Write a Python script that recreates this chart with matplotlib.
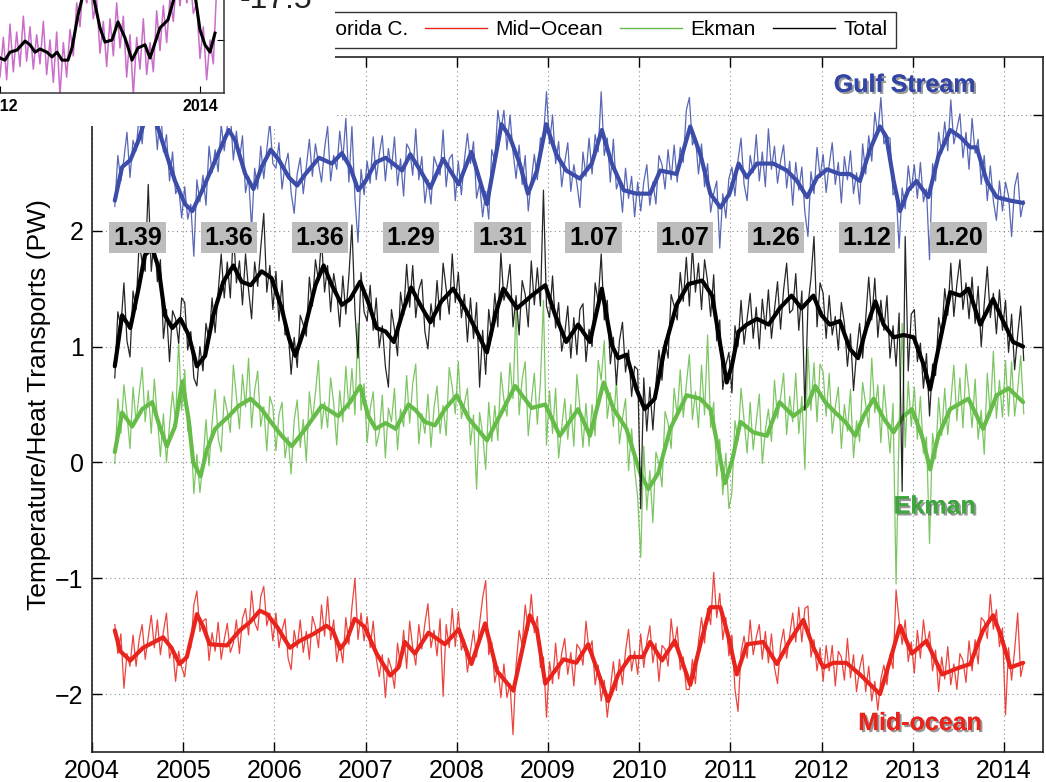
import numpy as np
import matplotlib
matplotlib.use('Agg')
import matplotlib.pyplot as plt
import matplotlib.patheffects as pe
from matplotlib.patches import Rectangle
from matplotlib.lines import Line2D

plt.rcParams['font.family'] = ['Liberation Sans', 'DejaVu Sans']

# thin (raw) series, one value every 1/30 year starting at 2004.25
t_start = 2004.25
samples_per_year = 30

gulf_thin = [
    # 2004
    2.21, 2.65, 2.43, 2.62, 2.85, 2.46, 2.78, 2.69, 3.00, 2.75, 3.07, 3.18, 2.94, 3.02, 2.70, 3.07, 2.68, 2.83, 2.43, 2.68, 2.32, 2.38, 2.11,
    # 2005
    2.38, 2.10, 2.23, 1.78, 2.44, 2.25, 2.48, 2.22, 2.73, 2.50, 2.70, 2.51, 2.92, 2.69, 2.90, 3.01, 2.61, 2.86, 2.61, 2.82,
    2.33, 2.47, 2.02, 2.54, 2.36, 2.73, 2.45, 2.70, 2.94, 2.58,
    # 2006
    2.54, 2.76, 2.36, 2.56, 2.67, 2.33, 2.15, 2.49, 2.63, 2.32, 2.55, 2.79, 2.47, 2.75, 2.58, 2.42, 2.71, 2.90, 2.43, 2.65,
    2.53, 2.86, 2.61, 2.97, 2.42, 2.90, 2.28, 1.90, 2.53, 2.31,
    # 2007
    2.60, 2.41, 2.81, 2.44, 2.66, 2.82, 2.43, 2.71, 2.53, 2.81, 2.39, 2.62, 2.30, 2.75, 2.70, 2.48, 2.88, 2.44, 2.64, 2.24,
    2.44, 2.23, 2.64, 2.56, 2.48, 2.87, 2.38, 2.62, 2.66, 2.26,
    # 2008
    2.60, 2.31, 2.61, 2.84, 2.58, 2.77, 2.28, 2.41, 2.12, 2.34, 2.10, 2.70, 2.60, 3.04, 2.86, 3.04, 2.70, 3.00, 2.68, 2.45,
    2.74, 2.40, 2.65, 2.17, 2.43, 2.66, 2.44, 2.80, 2.80, 3.20,
    # 2009
    2.75, 3.00, 2.58, 2.77, 2.38, 2.59, 2.76, 2.34, 2.57, 2.41, 2.20, 2.68, 2.47, 2.80, 2.49, 2.83, 2.68, 3.20, 2.65, 2.80,
    2.42, 2.79, 2.36, 2.45, 2.16, 2.54, 2.28, 2.47, 2.12, 2.42,
    # 2010
    2.17, 2.42, 2.57, 2.22, 2.42, 2.23, 2.65, 2.57, 2.36, 2.70, 2.44, 2.74, 2.42, 2.72, 2.59, 3.04, 3.15, 2.74, 2.81, 2.49,
    2.75, 2.38, 2.58, 2.16, 2.32, 2.43, 1.85, 2.32, 2.11, 2.45,
    # 2011
    2.55, 2.30, 2.61, 2.80, 2.40, 2.26, 2.65, 2.50, 2.83, 2.43, 2.68, 2.38, 2.88, 2.53, 2.73, 2.41, 2.60, 2.74, 2.37, 2.60,
    2.22, 2.59, 2.35, 2.55, 2.16, 1.95, 2.51, 2.32, 2.72, 2.46,
    # 2012
    2.66, 2.33, 2.57, 2.76, 2.40, 2.59, 2.24, 2.64, 2.44, 2.69, 2.32, 2.50, 2.23, 2.75, 2.49, 2.82, 2.60, 3.02, 2.83, 3.15,
    2.75, 2.81, 2.80, 2.31, 2.35, 1.85, 2.37, 2.19, 2.56, 2.35,
    # 2013
    2.57, 2.28, 2.59, 2.25, 2.36, 1.75, 2.58, 2.43, 2.85, 2.67, 2.94, 2.69, 3.13, 2.75, 2.88, 3.01, 2.63, 2.85, 2.53, 2.97,
    2.67, 2.79, 2.40, 2.65, 2.26, 2.56, 2.26, 2.09, 2.43, 2.17,
    # 2014
    2.42, 2.30, 1.95, 2.38, 2.50, 2.12, 2.26,
]

total_thin = [
    # 2004
    0.73, 1.30, 1.17, 1.55, 1.05, 0.91, 1.48, 1.32, 1.90, 1.73, 1.65, 2.40, 1.65, 1.95, 1.56, 1.75, 1.07, 1.32, 0.87, 1.31, 1.24, 1.03, 1.42,
    # 2005
    1.38, 0.97, 1.13, 0.73, 0.66, 1.00, 0.79, 1.20, 1.05, 1.42, 1.12, 1.47, 1.80, 1.42, 1.73, 1.42, 2.00, 1.55, 1.74, 1.36,
    1.80, 1.49, 1.24, 1.73, 1.52, 1.85, 2.15, 1.47, 1.70, 1.32,
    # 2006
    1.65, 1.22, 1.57, 1.10, 1.15, 0.76, 1.08, 0.82, 1.27, 1.19, 1.09, 1.60, 1.35, 1.75, 1.57, 1.93, 1.47, 1.70, 1.30, 1.63,
    1.47, 1.17, 1.61, 1.28, 1.61, 2.05, 1.30, 0.90, 1.64, 1.30,
    # 2007
    1.22, 1.53, 1.14, 1.42, 0.99, 1.18, 0.83, 0.65, 1.32, 1.15, 0.92, 1.47, 1.27, 1.71, 1.34, 1.70, 1.25, 1.49, 1.58, 1.13,
    0.98, 1.37, 1.17, 1.57, 1.23, 1.72, 1.50, 1.28, 1.80, 1.38,
    # 2008
    1.64, 1.25, 1.45, 1.04, 1.42, 1.07, 1.38, 0.65, 1.14, 0.76, 1.32, 1.09, 1.46, 1.17, 1.81, 1.40, 1.51, 1.71, 1.17, 1.44,
    1.10, 1.57, 1.45, 1.17, 1.74, 1.36, 1.68, 1.35, 2.35, 1.35,
    # 2009
    1.25, 1.61, 1.16, 1.38, 0.96, 1.11, 1.35, 0.90, 1.25, 0.93, 1.32, 1.37, 0.87, 1.15, 1.00, 1.55, 1.39, 1.80, 1.23, 1.40,
    0.85, 1.08, 0.67, 1.05, 1.21, 0.78, 0.97, 0.57, 0.83, 0.80,
    # 2010
    -0.40, 0.73, 0.27, 0.65, 0.28, 0.68, 0.97, 0.71, 1.05, 0.90, 1.45, 1.35, 1.23, 1.64, 1.39, 1.77, 1.35, 1.86, 1.47, 1.72,
    1.32, 1.75, 1.56, 1.26, 1.62, 1.05, 1.23, 0.63, 0.84, 0.95,
    # 2011
    0.60, 1.18, 1.00, 1.40, 1.02, 1.24, 1.46, 1.07, 1.34, 0.98, 1.41, 1.15, 1.49, 1.07, 1.32, 1.56, 1.15, 1.49, 1.72, 1.29,
    1.32, 1.63, 1.14, 1.48, 0.45, 1.35, 1.59, 1.95, 1.17, 1.55,
    # 2012
    1.46, 1.07, 1.44, 1.10, 1.26, 0.97, 1.38, 1.20, 0.83, 1.11, 0.62, 0.95, 1.20, 0.90, 1.24, 1.60, 1.23, 1.59, 1.08, 1.40,
    1.14, 1.44, 0.90, 1.18, 0.83, 1.29, -0.25, 1.95, 0.79, 1.28,
    # 2013
    1.32, 0.87, 1.03, 0.64, 0.94, 0.40, 0.85, 0.75, 1.25, 1.10, 1.50, 1.27, 1.72, 1.26, 1.54, 1.75, 1.32, 1.55, 1.24, 1.60,
    1.20, 1.52, 1.00, 1.37, 1.69, 1.25, 1.46, 1.11, 1.49, 1.14,
    # 2014
    1.40, 0.95, 1.28, 0.80, 1.10, 1.35, 0.88,
]

ekman_thin = [
    # 2004
    -0.01, 0.55, 0.25, 0.67, 0.42, 0.12, 0.65, 0.35, 0.59, 0.82, 0.35, 0.62, 0.25, 0.72, 0.38, 0.05, 0.42, 0.00, 0.32, 0.61, 0.35, 1.05, 0.45,
    # 2005
    0.80, 0.27, 0.30, -0.27, 0.07, -0.26, 0.00, 0.37, -0.03, 0.34, 0.63, 0.21, 0.09, 0.57, 0.44, 0.26, 0.84, 0.57, 0.29, 0.76,
    0.48, 0.90, 0.30, 0.62, 0.79, 0.31, 0.48, 0.10, 0.57, 0.48,
    # 2006
    0.10, 0.41, 0.52, 0.04, 0.22, -0.10, 0.36, 0.54, 0.13, 0.37, 0.01, 0.61, 0.36, 0.60, 0.88, 0.29, 0.52, 0.30, 0.73, 0.51,
    0.15, 0.62, 0.35, 0.83, 0.46, 0.81, 0.41, 1.20, 0.45, 0.68,
    # 2007
    0.17, 0.46, 0.61, 0.14, 0.26, 0.58, 0.04, 0.47, 0.35, 0.64, 0.11, 0.46, 0.31, 0.75, 0.34, 0.68, 0.85, 0.16, 0.42, 0.25,
    0.59, 0.13, 0.47, 0.66, 0.25, 0.49, 0.23, 0.82, 0.65, 0.42,
    # 2008
    0.87, 0.38, 0.51, 0.64, 0.15, 0.41, -0.23, 0.43, 0.25, -0.06, 0.52, 0.18, 0.49, 0.19, 0.78, 0.54, 0.40, 0.86, 0.55, 1.35,
    0.41, 0.72, 0.87, 0.23, 0.52, 0.77, 0.33, 0.69, 1.40, 0.15,
    # 2009
    0.62, 0.25, 0.64, 0.04, 0.30, 0.55, 0.20, 0.50, 0.14, 0.76, 0.47, 0.13, 0.51, 0.14, 0.50, 0.23, 0.88, 0.71, 1.05, 0.38,
    0.60, 0.31, 0.71, 0.16, 0.38, 0.55, -0.07, 0.29, -0.06, -0.30,
    # 2010
    -0.82, 0.14, -0.41, -0.07, -0.52, 0.09, -0.01, -0.21, 0.44, 0.34, 0.12, 0.64, 0.40, 0.80, 0.39, 0.67, 0.93, 0.37, 0.61, 0.30,
    0.84, 0.41, 1.10, 0.30, 0.52, -0.12, 0.20, -0.28, 0.08, -0.40,
    # 2011
    -0.26, 0.36, 0.19, 0.64, 0.36, 0.08, 0.52, 0.11, 0.35, 0.59, -0.01, 0.28, 0.46, 0.18, 0.71, 0.38, 0.56, 0.77, 0.24, 0.57,
    0.35, 0.77, 0.25, 0.57, -0.06, 0.98, 0.45, 0.86, 0.35, 0.85,
    # 2012
    0.78, 0.40, 0.77, 0.25, 0.48, 0.65, 0.12, 0.50, 0.27, 0.63, 0.04, 0.36, 0.18, 0.69, 0.50, 0.30, 0.90, 0.43, 0.67, 0.17,
    0.67, 0.37, 0.08, 0.51, -1.05, 0.30, 1.20, 0.13, 0.70, 0.31,
    # 2013
    0.65, 0.20, 0.57, 0.08, 0.22, -0.70, 0.25, 0.03, 0.56, 0.23, 0.64, 0.24, 0.52, 0.84, 0.36, 0.73, 0.30, 0.85, 0.60, 0.30,
    0.72, 0.20, 0.45, 0.07, 0.77, 0.40, 0.96, 0.38, 0.71, 0.39,
    # 2014
    0.88, 0.40, 0.87, 0.40, 0.63, 0.92, 0.42,
]

mid_thin = [
    # 2004
    -1.40, -1.65, -1.48, -1.95, -1.65, -1.76, -1.49, -1.76, -1.53, -1.40, -1.70, -1.51, -1.32, -1.60, -1.36, -1.66, -1.46, -1.30, -1.69, -1.59, -1.89, -1.63, -1.77,
    # 2005
    -1.85, -1.61, -1.60, -1.23, -1.11, -1.46, -1.37, -1.35, -1.71, -1.47, -1.63, -1.38, -1.70, -1.53, -1.39, -1.64, -1.56, -1.36, -1.65, -1.35,
    -1.26, -1.49, -1.11, -1.38, -1.45, -1.16, -1.07, -1.41, -1.30, -1.54,
    # 2006
    -1.30, -1.60, -1.45, -1.35, -1.69, -1.79, -1.45, -1.60, -1.36, -1.64, -1.46, -1.70, -1.33, -1.42, -1.60, -1.23, -1.50, -1.16, -1.53, -1.36,
    -1.72, -1.56, -1.73, -1.34, -1.57, -1.25, -1.00, -1.53, -1.30, -1.54,
    # 2007
    -1.33, -1.60, -1.37, -1.69, -1.85, -1.66, -2.03, -1.69, -1.78, -1.95, -1.56, -1.76, -1.45, -1.78, -1.37, -1.60, -1.75, -1.40, -1.61, -1.39,
    -1.22, -1.60, -1.45, -1.67, -1.35, -2.02, -1.40, -1.60, -1.26, -1.59,
    # 2008
    -1.29, -1.62, -1.53, -1.81, -1.63, -1.45, -1.68, -1.39, -1.17, -1.02, -1.66, -1.55, -1.90, -1.76, -2.03, -1.74, -2.03, -1.91, -2.35, -1.75,
    -1.45, -1.58, -1.23, -1.45, -1.14, -1.47, -1.33, -1.77, -1.68, -2.20,
    # 2009
    -1.72, -1.91, -1.56, -1.87, -1.65, -1.52, -1.83, -1.64, -1.93, -1.57, -1.61, -1.75, -1.37, -1.63, -1.54, -1.92, -1.75, -2.06, -1.88, -2.20,
    -1.96, -1.72, -1.97, -1.70, -1.92, -1.63, -1.44, -1.80, -1.63, -1.83,
    # 2010
    -1.48, -1.77, -1.55, -1.41, -1.73, -1.56, -1.89, -1.58, -1.61, -1.76, -1.35, -1.59, -1.42, -1.79, -1.68, -1.96, -1.96, -1.70, -1.91, -1.55,
    -1.34, -1.56, -1.26, -1.40, -0.95, -1.34, -1.13, -1.53, -1.34, -1.67,
    # 2011
    -1.49, -1.96, -2.15, -1.64, -1.50, -1.69, -1.36, -1.66, -1.51, -1.40, -1.70, -1.46, -1.73, -1.48, -1.77, -1.91, -1.58, -1.44, -1.69, -1.49,
    -1.30, -1.55, -1.25, -1.55, -1.26, -1.24, -1.68, -1.53, -1.80, -1.60,
    # 2012
    -1.89, -1.58, -1.80, -1.58, -1.93, -1.63, -1.68, -1.88, -1.52, -1.86, -1.66, -1.98, -1.78, -1.66, -1.98, -1.76, -2.06, -1.89, -2.14, -1.87,
    -1.75, -1.92, -1.66, -1.78, -1.10, -1.37, -1.57, -1.36, -1.72, -1.55,
    # 2013
    -1.82, -1.45, -1.69, -1.36, -1.59, -1.46, -1.80, -1.62, -1.98, -1.68, -1.87, -1.59, -1.92, -1.74, -1.96, -1.65, -1.71, -1.90, -1.54, -1.80,
    -1.53, -1.74, -1.34, -1.37, -1.52, -1.14, -1.44, -1.27, -1.59, -1.43,
    # 2014
    -2.18, -1.60, -1.88, -1.62, -1.30, -1.85, -1.72,
]

# smoothed (3-month) series, (year, PW)
gulf_smooth = [
    (2004.25, 2.26), (2004.33, 2.55), (2004.42, 2.61), (2004.51, 2.78), (2004.58, 2.96), (2004.64, 3.05), (2004.71, 2.92),
    (2004.80, 2.70), (2004.91, 2.43), (2005.02, 2.23), (2005.10, 2.17), (2005.21, 2.35), (2005.32, 2.55), (2005.43, 2.75),
    (2005.50, 2.87), (2005.57, 2.78), (2005.68, 2.49), (2005.77, 2.36), (2005.86, 2.55), (2005.96, 2.70), (2006.05, 2.61),
    (2006.16, 2.46), (2006.25, 2.39), (2006.34, 2.49), (2006.49, 2.63), (2006.63, 2.58), (2006.74, 2.67), (2006.83, 2.55),
    (2006.92, 2.35), (2007.00, 2.43), (2007.11, 2.59), (2007.22, 2.63), (2007.40, 2.52), (2007.49, 2.66), (2007.60, 2.52),
    (2007.71, 2.37), (2007.85, 2.62), (2008.02, 2.40), (2008.16, 2.68), (2008.33, 2.23), (2008.49, 2.92), (2008.58, 2.81),
    (2008.69, 2.58), (2008.78, 2.32), (2008.88, 2.52), (2008.98, 2.92), (2009.09, 2.66), (2009.20, 2.52), (2009.35, 2.45),
    (2009.48, 2.58), (2009.59, 2.87), (2009.70, 2.58), (2009.83, 2.35), (2009.97, 2.32), (2010.12, 2.32), (2010.23, 2.52),
    (2010.41, 2.49), (2010.56, 2.90), (2010.67, 2.66), (2010.78, 2.32), (2010.89, 2.20), (2010.99, 2.32), (2011.09, 2.58),
    (2011.18, 2.46), (2011.29, 2.58), (2011.47, 2.58), (2011.62, 2.52), (2011.73, 2.43), (2011.84, 2.29), (2011.95, 2.46),
    (2012.06, 2.53), (2012.20, 2.49), (2012.31, 2.49), (2012.42, 2.43), (2012.53, 2.70), (2012.64, 2.90), (2012.71, 2.81),
    (2012.79, 2.43), (2012.86, 2.17), (2012.95, 2.35), (2013.04, 2.43), (2013.17, 2.29), (2013.28, 2.64), (2013.41, 2.87),
    (2013.52, 2.81), (2013.63, 2.72), (2013.70, 2.72), (2013.81, 2.43), (2013.92, 2.29), (2014.07, 2.26), (2014.21, 2.24),
]

total_smooth = [
    (2004.25, 0.83), (2004.33, 1.27), (2004.42, 1.16), (2004.51, 1.50), (2004.58, 1.79), (2004.66, 1.85), (2004.73, 1.68),
    (2004.80, 1.27), (2004.88, 1.16), (2004.97, 1.24), (2005.06, 1.10), (2005.15, 0.83), (2005.24, 0.92), (2005.33, 1.27),
    (2005.44, 1.56), (2005.55, 1.70), (2005.64, 1.56), (2005.74, 1.53), (2005.86, 1.65), (2005.97, 1.59), (2006.08, 1.33),
    (2006.16, 1.07), (2006.23, 0.92), (2006.34, 1.18), (2006.45, 1.53), (2006.54, 1.70), (2006.63, 1.53), (2006.74, 1.36),
    (2006.83, 1.41), (2006.94, 1.56), (2007.03, 1.38), (2007.12, 1.16), (2007.22, 1.13), (2007.31, 1.04), (2007.42, 1.33),
    (2007.50, 1.51), (2007.60, 1.36), (2007.71, 1.21), (2007.83, 1.39), (2007.96, 1.50), (2008.09, 1.33), (2008.22, 1.13),
    (2008.33, 0.95), (2008.42, 1.27), (2008.51, 1.50), (2008.66, 1.33), (2008.82, 1.44), (2008.97, 1.53), (2009.08, 1.27),
    (2009.20, 1.04), (2009.33, 1.19), (2009.46, 1.04), (2009.59, 1.50), (2009.70, 1.01), (2009.77, 0.90), (2009.86, 0.93),
    (2009.97, 0.63), (2010.06, 0.46), (2010.17, 0.55), (2010.28, 0.99), (2010.41, 1.36), (2010.54, 1.54), (2010.69, 1.57),
    (2010.80, 1.44), (2010.89, 1.01), (2010.96, 0.69), (2011.02, 0.85), (2011.09, 1.13), (2011.18, 1.19), (2011.29, 1.24),
    (2011.42, 1.19), (2011.54, 1.33), (2011.67, 1.44), (2011.78, 1.33), (2011.91, 1.44), (2012.00, 1.27), (2012.09, 1.19),
    (2012.20, 1.22), (2012.31, 0.98), (2012.40, 0.90), (2012.49, 1.16), (2012.59, 1.39), (2012.68, 1.19), (2012.79, 1.08),
    (2012.90, 1.10), (2013.01, 1.08), (2013.12, 0.84), (2013.19, 0.63), (2013.28, 0.98), (2013.41, 1.47), (2013.52, 1.44),
    (2013.61, 1.50), (2013.74, 1.19), (2013.88, 1.41), (2013.99, 1.22), (2014.10, 1.04), (2014.21, 1.00),
]

ekman_smooth = [
    (2004.25, 0.09), (2004.33, 0.43), (2004.44, 0.31), (2004.55, 0.46), (2004.66, 0.52), (2004.73, 0.34), (2004.82, 0.14),
    (2004.91, 0.31), (2004.99, 0.70), (2005.06, 0.37), (2005.11, 0.00), (2005.19, -0.12), (2005.26, 0.11), (2005.35, 0.29),
    (2005.50, 0.40), (2005.61, 0.49), (2005.74, 0.55), (2005.86, 0.46), (2005.97, 0.34), (2006.08, 0.23), (2006.19, 0.14),
    (2006.34, 0.29), (2006.52, 0.49), (2006.70, 0.40), (2006.83, 0.52), (2006.94, 0.66), (2007.03, 0.40), (2007.11, 0.29),
    (2007.22, 0.34), (2007.33, 0.29), (2007.47, 0.50), (2007.55, 0.45), (2007.65, 0.35), (2007.76, 0.32), (2007.87, 0.46),
    (2008.00, 0.58), (2008.13, 0.38), (2008.33, 0.19), (2008.47, 0.40), (2008.64, 0.66), (2008.82, 0.47), (2008.97, 0.50),
    (2009.13, 0.23), (2009.33, 0.46), (2009.46, 0.23), (2009.61, 0.69), (2009.72, 0.46), (2009.86, 0.29), (2010.01, -0.09),
    (2010.10, -0.23), (2010.21, -0.09), (2010.34, 0.29), (2010.52, 0.58), (2010.67, 0.55), (2010.78, 0.46), (2010.87, 0.11),
    (2010.94, -0.18), (2011.02, 0.02), (2011.11, 0.35), (2011.25, 0.26), (2011.40, 0.23), (2011.54, 0.52), (2011.69, 0.40),
    (2011.84, 0.49), (2011.93, 0.66), (2012.04, 0.52), (2012.15, 0.43), (2012.26, 0.35), (2012.37, 0.23), (2012.46, 0.40),
    (2012.57, 0.55), (2012.68, 0.38), (2012.79, 0.26), (2012.90, 0.40), (2012.99, 0.46), (2013.10, 0.23), (2013.19, -0.06),
    (2013.28, 0.23), (2013.41, 0.46), (2013.61, 0.55), (2013.77, 0.29), (2013.92, 0.58), (2014.05, 0.64), (2014.21, 0.52),
]

mid_smooth = [
    (2004.25, -1.45), (2004.31, -1.63), (2004.42, -1.71), (2004.56, -1.60), (2004.78, -1.51), (2004.87, -1.60), (2004.96, -1.74),
    (2005.04, -1.68), (2005.15, -1.31), (2005.22, -1.42), (2005.29, -1.57), (2005.48, -1.58), (2005.62, -1.45), (2005.73, -1.38),
    (2005.84, -1.28), (2005.92, -1.31), (2006.03, -1.42), (2006.17, -1.60), (2006.28, -1.54), (2006.43, -1.48), (2006.57, -1.41),
    (2006.64, -1.45), (2006.72, -1.61), (2006.79, -1.54), (2006.88, -1.35), (2006.99, -1.42), (2007.12, -1.65), (2007.27, -1.84),
    (2007.36, -1.77), (2007.43, -1.55), (2007.54, -1.65), (2007.69, -1.47), (2007.87, -1.57), (2008.02, -1.44), (2008.16, -1.74),
    (2008.31, -1.39), (2008.44, -1.80), (2008.62, -1.97), (2008.80, -1.32), (2008.88, -1.45), (2008.97, -1.91), (2009.17, -1.70),
    (2009.31, -1.73), (2009.44, -1.57), (2009.53, -1.77), (2009.66, -2.06), (2009.77, -1.83), (2009.90, -1.68), (2010.04, -1.68),
    (2010.12, -1.55), (2010.25, -1.71), (2010.39, -1.54), (2010.56, -1.92), (2010.68, -1.54), (2010.78, -1.25), (2010.89, -1.25),
    (2010.98, -1.51), (2011.07, -1.83), (2011.18, -1.57), (2011.36, -1.55), (2011.51, -1.74), (2011.65, -1.54), (2011.80, -1.36),
    (2011.91, -1.60), (2012.02, -1.77), (2012.13, -1.73), (2012.27, -1.73), (2012.42, -1.83), (2012.64, -2.00), (2012.75, -1.71),
    (2012.86, -1.41), (2012.99, -1.65), (2013.15, -1.54), (2013.32, -1.83), (2013.48, -1.78), (2013.63, -1.74), (2013.77, -1.45),
    (2013.88, -1.32), (2013.96, -1.48), (2014.07, -1.77), (2014.21, -1.73),
]

# yearly mean total heat transport labels
label_years = [2004, 2005, 2006, 2007, 2008, 2009, 2010, 2011, 2012, 2013]
label_text = ['1.39', '1.36', '1.36', '1.29', '1.31', '1.07', '1.07', '1.26', '1.12', '1.20']

# inset (top left, mostly cut off)
inset_t_start = 2011.9
inset_thin = [
    22.0, 14.5, 21.0, 13.0, 20.5, 12.5, 23.0, 14.0, 21.5, 15.0, 24.5, 16.0, 22.5, 14.5, 21.0, 15.5, 23.5, 13.5, 20.0, 12.0,
    21.5, 9.5, 19.5, 13.0, 22.0, 17.0, 27.0, 22.5, 31.0, 27.0, 32.0, 24.0, 27.5, 17.5, 23.5, 15.0, 24.0, 17.0, 27.0, 18.5,
    24.5, 13.0, 21.0, 9.5, 20.5, 14.5, 24.0, 13.5, 19.5, 14.0, 25.5, 18.0, 26.5, 19.5, 28.0, 23.5, 32.0, 26.5, 33.0, 27.0,
    32.0, 25.0, 27.0, 16.5, 22.5, 12.5, 20.0, 15.5, 30.0, 34.0,
]
inset_smooth = [
    (2011.90, 19.0), (2011.95, 17.5), (2012.00, 16.6), (2012.05, 16.2), (2012.10, 17.7), (2012.17, 18.1), (2012.25, 19.8),
    (2012.30, 19.1), (2012.35, 17.7), (2012.40, 18.3), (2012.47, 17.7), (2012.52, 16.8), (2012.57, 17.7), (2012.62, 16.2),
    (2012.68, 16.2), (2012.72, 18.5), (2012.78, 24.7), (2012.83, 28.5), (2012.88, 30.4), (2012.93, 28.5), (2013.00, 22.3),
    (2013.05, 19.6), (2013.12, 20.0), (2013.18, 23.4), (2013.25, 20.4), (2013.32, 16.2), (2013.38, 18.5), (2013.45, 19.1),
    (2013.50, 16.6), (2013.60, 22.3), (2013.68, 23.8), (2013.75, 28.5), (2013.85, 30.4), (2013.95, 28.5), (2014.00, 21.9),
    (2014.05, 19.1), (2014.10, 17.7), (2014.15, 21.3),
]

blue = '#3b4ca9'
red = '#e8241d'
green = '#66bc48'
magenta = '#c96ec9'

W, H = 1046, 782
fig = plt.figure(figsize=(W / 100, H / 100), dpi=100)
ax = fig.add_axes([92 / W, 1 - 752 / H, (1043 - 92) / W, (752 - 57) / H])

series = [
    (gulf_thin, gulf_smooth, blue),
    (mid_thin, mid_smooth, red),
    (ekman_thin, ekman_smooth, green),
    (total_thin, total_smooth, 'black'),
]
for thin, smooth, c in series:
    t = t_start + np.arange(len(thin)) / samples_per_year
    ax.plot(t, thin, color=c, lw=0.9, alpha=0.85)
    st, sv = zip(*smooth)
    ax.plot(st, sv, color=c, lw=3.0, solid_joinstyle='round', solid_capstyle='round')

for yr, lab in zip(label_years, label_text):
    ax.text(yr + 0.5, 1.94, lab, ha='center', va='center', fontsize=18, fontweight='bold',
            bbox=dict(boxstyle='square,pad=0.15', fc='#bdbdbd', ec='none'), zorder=10)

shadow = [pe.withSimplePatchShadow(offset=(1.5, -1.5), shadow_rgbFace='#444444', alpha=0.55), pe.Normal()]
ax.text(2012.91, 3.26, 'Gulf Stream', color='#3346a6', fontsize=18, fontweight='bold',
        ha='center', va='center', path_effects=shadow, zorder=10)
ax.text(2013.24, -0.38, 'Ekman', color='#3fa63f', fontsize=18, fontweight='bold',
        ha='center', va='center', path_effects=shadow, zorder=10)
ax.text(2013.08, -2.25, 'Mid-ocean', color=red, fontsize=18, fontweight='bold',
        ha='center', va='center', path_effects=shadow, zorder=10)

ax.set_xlim(2004, 2004 + (1043 - 92) / 91.2)
ax.set_ylim(-2.5, 3.5)
ax.set_xticks(range(2004, 2015))
ax.set_yticks([-2, -1, 0, 1, 2, 3])
ax.grid(True, linestyle=(0, (1, 3)), color='#8a8a8a', lw=0.8)
ax.set_axisbelow(True)
ax.tick_params(direction='in', top=True, right=True, length=7, width=1, labelsize=18)
ax.tick_params(axis='x', pad=5)
ax.tick_params(axis='y', pad=6)
for s in ax.spines.values():
    s.set_linewidth(1.2)
    s.set_color('#222222')
ax.set_ylabel('Temperature/Heat Transports (PW)', fontsize=19, labelpad=3)

handles = [Line2D([], [], color=c, lw=1) for c in (blue, red, green, 'black')]
leg = ax.legend(handles, ['Florida C.', 'Mid\u2212Ocean', 'Ekman', 'Total'], ncol=4,
                loc='upper right', bbox_to_anchor=(896 / W, 1 - 12 / H), bbox_transform=fig.transFigure,
                fontsize=15, fancybox=False, framealpha=1, handlelength=3.0, handletextpad=0.4,
                columnspacing=0.8, borderpad=0.4, borderaxespad=0)
leg.get_frame().set_edgecolor('#333333')
leg.get_frame().set_linewidth(1.0)

# white area where the inset sits over the main axes
fig.add_artist(Rectangle((0, 1 - 126 / H), 335 / W, 126 / H, transform=fig.transFigure,
                         fc='white', ec='none', zorder=5))

axi = fig.add_axes([-0.2, 1 - 93 / H, 0.2 + 224 / W, 200 / H], zorder=6)
ti = inset_t_start + np.arange(len(inset_thin)) / 30
axi.plot(ti, inset_thin, color=magenta, lw=1.1)
it, iv = zip(*inset_smooth)
axi.plot(it, iv, color='black', lw=2.2)
axi.set_xlim(2012 - 209.2 / 100, 2012 + 224 / 100)
axi.set_ylim(10, 10 + 200 / 5.3)
axi.set_xticks([2012, 2014])
axi.set_yticks([20])
axi.tick_params(direction='in', right=True, labelleft=False, length=5, labelsize=11.5, pad=4)
for lab in axi.get_xticklabels():
    lab.set_fontweight('bold')
for s in axi.spines.values():
    s.set_linewidth(1.1)
    s.set_color('#333333')

fig.text(240 / W, 1 - 8 / H, '-17.5', fontsize=23, ha='left', va='baseline', color='#222222', zorder=7)

fig.savefig('out.png', dpi=100)
